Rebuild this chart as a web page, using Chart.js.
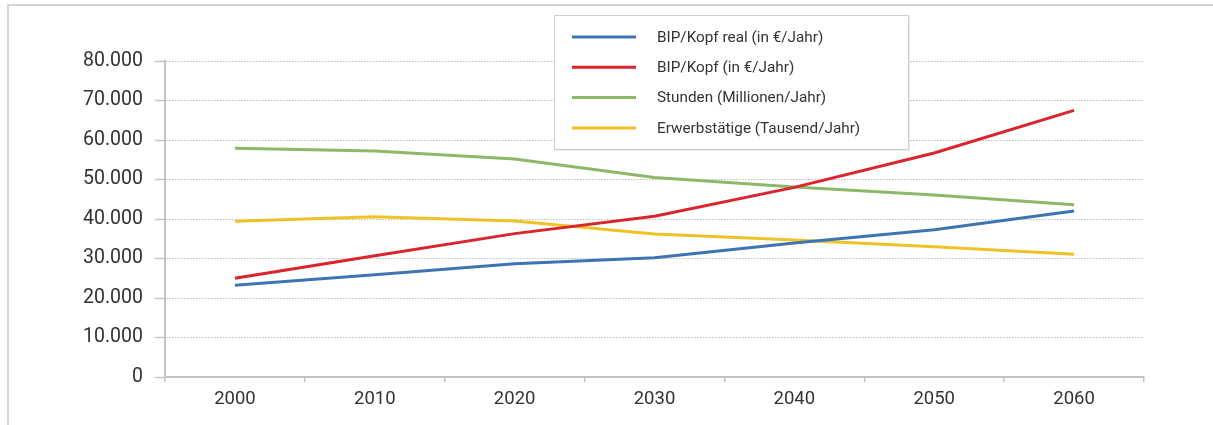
<!DOCTYPE html>
<html>
<head>
<meta charset="utf-8">
<script src="https://cdn.jsdelivr.net/npm/chart.js@4/dist/chart.umd.min.js"></script>
<style>
html,body{margin:0;padding:0;background:#fff;}
canvas{display:block;}
</style>
</head>
<body>
<canvas id="c" width="1213" height="425"></canvas>
<script>
const categories = ['2000','2010','2020','2030','2040','2050','2060'];
const bipReal = [23200, 25900, 28700, 30200, 33900, 37300, 42000];
const bip = [25000, 30700, 36300, 40700, 48000, 56700, 67500];
const stunden = [57900, 57200, 55200, 50500, 48100, 46100, 43600];
const erwerbstaetige = [39400, 40600, 39500, 36200, 34700, 33000, 31100];
const seriesLabels = ['BIP/Kopf real (in €/Jahr)', 'BIP/Kopf (in €/Jahr)', 'Stunden (Millionen/Jahr)', 'Erwerbstätige (Tausend/Jahr)'];
const yTicks = [0, 10000, 20000, 30000, 40000, 50000, 60000, 70000, 80000];

const colors = ['#3f74b3', '#d9252d', '#8cb868', '#efc327'];
const FONT = 'Roboto, "Open Sans", sans-serif';
const TEXT = '#333333';
const AXIS = '#c4c4c4';

const framePlugin = {
  id: 'frame',
  beforeDraw(chart) {
    const ctx = chart.ctx;
    ctx.save();
    ctx.fillStyle = '#fff';
    ctx.fillRect(0, 0, chart.width, chart.height);
    ctx.strokeStyle = '#c8c8c8';
    ctx.lineWidth = 1.5;
    ctx.beginPath();
    ctx.moveTo(8, chart.height);
    ctx.lineTo(8, 5);
    ctx.lineTo(chart.width, 5);
    ctx.stroke();
    ctx.restore();
  }
};

const legendPlugin = {
  id: 'boxLegend',
  afterDraw(chart) {
    const ctx = chart.ctx;
    const x0 = 554, y0 = 15, w = 354, h = 134;
    ctx.save();
    ctx.fillStyle = 'rgba(0,0,0,0.08)';
    ctx.fillRect(x0 + 2, y0 + 2, w, h);
    ctx.fillStyle = '#fff';
    ctx.fillRect(x0, y0, w, h);
    ctx.strokeStyle = '#cfcfcf';
    ctx.lineWidth = 1;
    ctx.strokeRect(x0 + 0.5, y0 + 0.5, w, h);
    ctx.font = '15.3px ' + FONT;
    ctx.textBaseline = 'middle';
    ctx.textAlign = 'left';
    chart.data.datasets.forEach((ds, i) => {
      const y = 37 + i * 30.3;
      ctx.strokeStyle = ds.borderColor;
      ctx.lineWidth = 3;
      ctx.beginPath();
      ctx.moveTo(572, y);
      ctx.lineTo(636, y);
      ctx.stroke();
      ctx.fillStyle = TEXT;
      ctx.fillText(ds.label, 657, y + 1);
    });
    ctx.restore();
  }
};

const datasets = [bipReal, bip, stunden, erwerbstaetige].map((d, i) => ({
  label: seriesLabels[i],
  data: d,
  borderColor: colors[i],
  backgroundColor: colors[i],
  borderWidth: 3,
  pointRadius: 0,
  pointHoverRadius: 0,
  tension: 0,
  fill: false
}));

new Chart(document.getElementById('c'), {
  type: 'line',
  data: { labels: categories, datasets },
  plugins: [framePlugin, legendPlugin],
  options: {
    responsive: false,
    animation: false,
    events: [],
    layout: { padding: { top: 61, right: 69, bottom: 0, left: 0 } },
    plugins: { legend: { display: false }, tooltip: { enabled: false } },
    scales: {
      x: {
        offset: true,
        grid: { display: true, drawOnChartArea: false, offset: true, tickLength: 5, color: AXIS, tickColor: AXIS, lineWidth: 1.5 },
        border: { display: true, color: AXIS, width: 2 },
        ticks: { color: TEXT, font: { family: FONT, size: 18.5 }, padding: 6, maxRotation: 0 },
        afterFit(scale) { scale.height = 48; }
      },
      y: {
        min: 0, max: 80000,
        afterBuildTicks(scale) { scale.ticks = yTicks.map(v => ({ value: v })); },
        grid: { display: true, drawOnChartArea: true, color: '#bdbdbd', lineWidth: 1, tickLength: 10, tickColor: AXIS, tickWidth: 1.5, tickBorderDash: [] },
        border: { display: true, color: AXIS, width: 2, dash: [1.5, 1.5] },
        ticks: {
          color: TEXT, font: { family: FONT, size: 19.5 }, padding: 12,
          callback: v => v.toLocaleString('de-DE')
        },
        afterFit(scale) { scale.width = 165; }
      }
    }
  }
});
</script>
</body>
</html>
